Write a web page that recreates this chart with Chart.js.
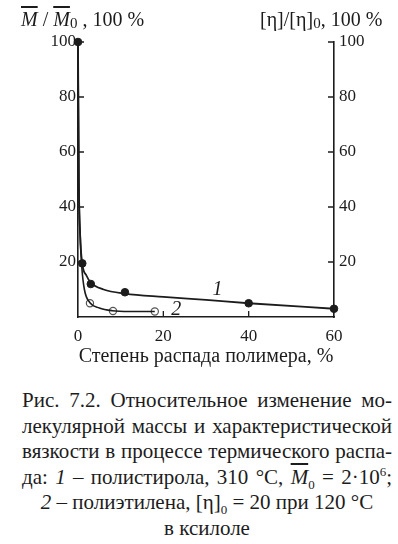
<!DOCTYPE html>
<html>
<head>
<meta charset="utf-8">
<script src="https://cdn.jsdelivr.net/npm/chart.js@4"></script>
<style>
    body { margin: 0; width: 398px; height: 544px; background: #fff; position: relative; overflow: hidden;
           font-family: 'Liberation Serif', serif; color: #1c1c1c; }
    #wrap { position: absolute; left: 0; top: 0; width: 398px; height: 372px; }
    .ttl { position: absolute; top: 6px; font-size: 20px; line-height: 26px; white-space: nowrap; }
    .ov { text-decoration: overline; font-style: italic; }
    sub, sup { line-height: 0; font-size: 13px; }
    .ttl sub { font-size: 15px; vertical-align: -2px; }
    #cap { position: absolute; left: 22px; top: 388px; width: 370px; font-size: 21px; line-height: 25.6px; }
    .j { text-align: justify; text-align-last: justify; }
    .c { text-align: center; }
</style>
</head>
<body>
<div id="wrap"><canvas id="chart"></canvas></div>
<div class="ttl" style="left:21px"><span class="ov">M</span> / <span class="ov">M</span><sub>0</sub> , 100 %</div>
<div class="ttl" style="left:260px">[η]/[η]<sub>0</sub>, 100 %</div>
<div id="cap">
    <div class="j">Рис. 7.2. Относительное изменение мо-</div>
    <div class="j">лекулярной массы и характеристической</div>
    <div class="j">вязкости в процессе термического распа-</div>
    <div class="j">да: <i>1</i> – полистирола, 310 °C, <span class="ov">M</span><sub>0</sub> = 2·10<sup>6</sup>;</div>
    <div class="c"><i>2</i> – полиэтилена, [η]<sub>0</sub> = 20 при 120 °C</div>
    <div class="c">в ксилоле</div>
</div>
<script>
    // ─── DATA ───────────────────────────────────────────────
    const xTicks = [0, 20, 40, 60];
    const yTicks = [0, 20, 40, 60, 80, 100];

    // curve 1 (polystyrene): markers and line
    const ps_markX = [0, 1, 3, 11, 40, 60];
    const ps_markY = [100, 19.5, 12, 9, 5, 3];
    const ps_lineX = [0, 0.2, 0.5, 1, 2, 3, 6, 11, 20, 30, 40, 60];
    const ps_lineY = [100, 50, 30, 19.5, 15, 12.5, 10, 8.5, 7.3, 6.2, 5, 3];

    // curve 2 (polyethylene)
    const pe_markX = [2.8, 8.2, 18];
    const pe_markY = [5, 2.2, 2];
    const pe_lineX = [0, 0.2, 0.5, 0.9, 1.5, 2.8, 5, 8, 12, 18];
    const pe_lineY = [100, 50, 30, 18, 10, 5.2, 3.3, 2.3, 2, 2];

    const curveLabels = [
        { text: '1', x: 32.7, y: 10 },
        { text: '2', x: 23, y: 2.5 }
    ];

    const INK = '#1c1c1c';
    const FONT = "'Liberation Serif', serif";

    const pts = (xs, ys) => xs.map((v, i) => ({ x: v, y: ys[i] }));

    // ─── PLUGIN: inward ticks + curve numbers ───────────────
    const inwardTicks = {
        id: 'inwardTicks',
        afterDraw(chart) {
            const { ctx, chartArea: a, scales: { x, y } } = chart;
            ctx.save();
            ctx.strokeStyle = INK;
            ctx.lineWidth = 1.3;
            ctx.beginPath();
            yTicks.forEach(v => {
                if (!v) return;
                const py = y.getPixelForValue(v);
                ctx.moveTo(a.left, py); ctx.lineTo(a.left + 6, py);
                ctx.moveTo(a.right, py); ctx.lineTo(a.right - 6, py);
            });
            xTicks.forEach(v => {
                if (v === 0 || v === 60) return;
                const px = x.getPixelForValue(v);
                ctx.moveTo(px, a.bottom); ctx.lineTo(px, a.bottom - 6);
            });
            ctx.stroke();
            ctx.font = 'italic 20px ' + FONT;
            ctx.fillStyle = INK;
            ctx.textAlign = 'center';
            ctx.textBaseline = 'middle';
            curveLabels.forEach(l => ctx.fillText(l.text, x.getPixelForValue(l.x), y.getPixelForValue(l.y)));
            ctx.restore();
        }
    };

    const tickFont = { family: FONT, size: 17 };
    const noZero = v => (v === 0 ? '' : v);

    new Chart(document.getElementById('chart'), {
        type: 'scatter',
        data: {
            datasets: [
                { data: pts(ps_lineX, ps_lineY), showLine: true, borderColor: INK, borderWidth: 1.8,
                  pointRadius: 0, cubicInterpolationMode: 'monotone', clip: false },
                { data: pts(pe_lineX, pe_lineY), showLine: true, borderColor: INK, borderWidth: 1.6,
                  pointRadius: 0, cubicInterpolationMode: 'monotone', clip: false },
                { data: pts(ps_markX, ps_markY), pointRadius: 3.8, pointBackgroundColor: INK,
                  pointBorderColor: INK, clip: false },
                { data: pts(pe_markX, pe_markY), pointRadius: 3.6, pointBackgroundColor: '#fff',
                  pointBorderColor: '#555', pointBorderWidth: 1.2, clip: false }
            ]
        },
        options: {
            responsive: true,
            maintainAspectRatio: false,
            animation: false,
            layout: { padding: { top: 42, left: 0, right: 0, bottom: 0 } },
            plugins: { legend: { display: false }, tooltip: { enabled: false } },
            scales: {
                x: {
                    type: 'linear', min: 0, max: 60,
                    afterBuildTicks: s => { s.ticks = xTicks.map(v => ({ value: v })); },
                    afterFit: s => { s.height = 55; },
                    grid: { drawOnChartArea: false, drawTicks: false },
                    border: { color: INK, width: 1.6 },
                    ticks: { color: INK, font: tickFont, padding: 9 },
                    title: { display: true, text: 'Степень распада полимера, %', color: INK,
                             font: { family: FONT, size: 20 }, padding: { top: 0, bottom: 3 } }
                },
                y: {
                    position: 'left', min: 0, max: 100,
                    afterBuildTicks: s => { s.ticks = yTicks.map(v => ({ value: v })); },
                    afterFit: s => { s.width = 78; },
                    grid: { drawOnChartArea: false, drawTicks: false },
                    border: { color: INK, width: 1.6 },
                    ticks: { color: INK, font: tickFont, padding: 2, callback: noZero }
                },
                y2: {
                    position: 'right', min: 0, max: 100,
                    afterBuildTicks: s => { s.ticks = yTicks.map(v => ({ value: v })); },
                    afterFit: s => { s.width = 64; },
                    grid: { drawOnChartArea: false, drawTicks: false },
                    border: { color: INK, width: 1.6 },
                    ticks: { color: INK, font: tickFont, padding: 5, callback: noZero }
                }
            }
        },
        plugins: [inwardTicks]
    });
</script>
</body>
</html>
